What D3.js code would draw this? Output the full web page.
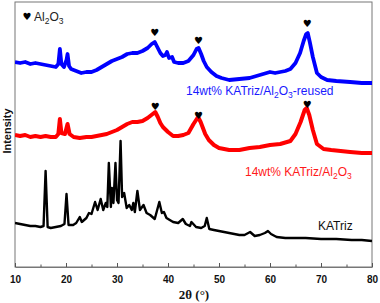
<!DOCTYPE html>
<html><head><meta charset="utf-8">
<script src="https://cdn.jsdelivr.net/npm/d3@7"></script>
<style>body{margin:0;background:#fff}svg{display:block}</style>
</head><body>
<svg id="c" width="380" height="303"></svg>
<script>
// 2θ (°), intensity (a.u.)
const reusedData = [[10,205],[11,204],[12,205],[13,203],[14,204],[15,203],[16,202],[17,201],[18,200],[18.5,203],[18.8,218],[19.1,203],[19.6,200],[20.1,207],[20.3,213],[20.6,201],[21,198],[22,196],[23,194],[24,195],[25,195],[26,197],[27,200],[28,203],[29,206],[30,208],[31,210],[32,213],[33,214],[34,214],[35,216],[36,219],[36.8,223],[37.4,225],[37.9,220],[38.5,214],[39,211],[39.5,212],[39.8,215],[40.2,209],[40.8,210],[41.2,205],[42,204],[43,204],[44,206],[45,212],[45.6,218],[46,219],[46.5,213],[47,206],[47.6,200],[48.5,195],[49.5,191],[50.5,189],[52,187],[54,188],[56,189],[58,192],[60,195],[61,194],[62,195],[63,196],[64,198],[65,204],[65.9,214],[66.6,226],[67.1,233],[67.4,234],[67.8,225],[68.4,210],[69.2,194],[70,190],[71.2,187],[73,186],[75.7,185],[78,184],[80,184]];
const freshData = [[10,132],[11,131],[12,132],[13,130],[14,131],[15,130],[16,131],[17,130],[18,130],[18.5,133],[18.8,148],[19.1,134],[19.8,133],[20.3,143],[20.7,133],[21.5,130],[22.7,129],[24,130],[25,130],[26,131],[27,132],[28,133],[29,135],[30,137],[31,140],[32,143],[33,145],[34,145],[35,146],[36,149],[37,153],[37.5,155],[38,150],[38.5,144],[39,140],[40,135],[41,131],[42,131],[43,132],[44,134],[45,143],[45.9,150],[46.4,145],[47.3,133],[48,127],[49,122],[50,119],[52,117],[54,117],[56,119],[58,120],[60,122],[62,123],[64,126],[65,133],[66,145],[66.8,157],[67.2,159],[67.7,152],[68.4,137],[69.2,123],[70.5,118],[72,117],[75.7,115],[78,114],[80,114]];
const katrizData = [[10,44],[11,43],[12,42],[13,41],[14,41],[15,40],[15.6,41],[16.0,96],[16.4,40],[17,39],[18,40],[19,41],[19.7,43],[20.1,73],[20.5,42],[21.4,42],[22,44],[22.7,50],[23.1,45],[24,49],[24.5,54],[25,53],[25.7,65],[26.2,57],[26.8,68],[27.3,57],[27.8,64],[28.1,60],[28.4,104],[28.8,60],[29.0,79],[29.3,64],[29.7,104],[30.0,67],[30.3,64],[30.7,126],[31.0,70],[31.4,74],[31.9,59],[32.4,62],[32.9,57],[33.2,64],[33.5,55],[34.0,76],[34.5,57],[35.2,62],[35.8,54],[36.5,52],[37.4,48],[38.3,65],[38.8,54],[39.2,55],[39.7,49],[41,45],[42,44],[42.9,48],[43.5,43],[44.3,41],[44.6,45],[45.5,40],[46.5,39],[47.2,41],[47.6,49],[48.1,38],[49,37],[50,36],[51,35],[52,34],[53,33],[54,32],[55,32],[56.1,35],[57,31],[58,32],[59,34],[59.6,36],[60.2,33],[61.3,30],[63,29],[65,29],[67,29],[70,28],[73,28],[76,27],[78,27],[80,26]];
const heartMarks = [[37.4,235],[46,227],[67.3,244],[37.5,161],[46,152],[67.3,163]];
const xTicks = [10,20,30,40,50,60,70,80];
const xMinorTicks = [15,25,35,45,55,65,75];
const seriesNames = ["14wt% KATriz/Al2O3-reused","14wt% KATriz/Al2O3","KATriz"];

const svg = d3.select("#c");
const L=15,R=372,T=2,B=267;
const x = d3.scaleLinear().domain([10,80]).range([L,R]);
const y = d3.scaleLinear().domain([0,265]).range([B,T]);

svg.append("rect").attr("x",L).attr("y",T).attr("width",R-L).attr("height",B-T)
  .attr("fill","none").attr("stroke","#777").attr("stroke-width",1);

const ax = svg.append("g").attr("transform",`translate(0,${B})`)
  .call(d3.axisBottom(x).tickValues(xTicks).tickSizeInner(-4).tickSizeOuter(0).tickPadding(9));
ax.select(".domain").attr("stroke","#777");
ax.selectAll(".tick line").attr("stroke","#555");
ax.selectAll(".tick text").attr("font-family","Liberation Sans, Arial, sans-serif")
  .attr("font-weight","bold").attr("font-size","10px").attr("fill","#111");
const axm = svg.append("g").attr("transform",`translate(0,${B})`)
  .call(d3.axisBottom(x).tickValues(xMinorTicks).tickSizeInner(-2.5).tickSizeOuter(0).tickFormat(""));
axm.select(".domain").remove();
axm.selectAll(".tick line").attr("stroke","#555");

const line = d3.line().x(d=>x(d[0])).y(d=>y(d[1]));
svg.append("clipPath").attr("id","pc").append("rect")
  .attr("x",L).attr("y",T).attr("width",R-L).attr("height",B-T);
const g = svg.append("g").attr("clip-path","url(#pc)");
g.append("path").datum(reusedData).attr("d",line).attr("fill","none").attr("stroke","#0000ff").attr("stroke-width",3.8).attr("stroke-linejoin","round");
g.append("path").datum(freshData).attr("d",line).attr("fill","none").attr("stroke","#ff0000").attr("stroke-width",4).attr("stroke-linejoin","round");
g.append("path").datum(katrizData).attr("d",line).attr("fill","none").attr("stroke","#000").attr("stroke-width",2.4).attr("stroke-linejoin","round");

svg.selectAll("text.h").data(heartMarks).join("text").attr("class","h")
  .attr("x",d=>x(d[0])).attr("y",d=>y(d[1])).attr("text-anchor","middle")
  .attr("dominant-baseline","central").attr("font-size","10px")
  .attr("font-family","DejaVu Sans, sans-serif").attr("fill","#000").text("\u2665");

const sans = "Liberation Sans, Arial, sans-serif";
function labelAl(px, py, col, prefix, suffix){
  const tx = svg.append("text").attr("x",px).attr("y",py).attr("font-family",sans)
    .attr("font-size","12px").attr("fill",col);
  tx.append("tspan").text(prefix+"Al");
  tx.append("tspan").attr("dy",3).attr("font-size","8.5px").text("2");
  tx.append("tspan").attr("dy",-3).text("O");
  tx.append("tspan").attr("dy",3).attr("font-size","8.5px").text("3");
  if(suffix) tx.append("tspan").attr("dy",-3).text(suffix);
}
svg.append("text").attr("x",27).attr("y",16).attr("text-anchor","middle").attr("dominant-baseline","central")
  .attr("font-size","10px").attr("font-family","DejaVu Sans, sans-serif").text("\u2665");
labelAl(34,21,"#222","","");
labelAl(186,95,"#1a1aff","14wt% KATriz/","-reused");
labelAl(245,176,"#ff1a1a","14wt% KATriz/","");
svg.append("text").attr("x",318).attr("y",230).attr("font-family",sans).attr("font-size","12px")
  .attr("fill","#111").text(seriesNames[2]);

svg.append("text").attr("transform","translate(11,131) rotate(-90)").attr("text-anchor","middle")
  .attr("font-family",sans).attr("font-weight","bold").attr("font-size","11px").attr("fill","#111").text("Intensity");
svg.append("text").attr("x",194).attr("y",299).attr("text-anchor","middle")
  .attr("font-family","Liberation Serif, Times New Roman, serif").attr("font-weight","bold")
  .attr("font-size","13px").attr("fill","#111").text("2\u03b8 (°)");
</script>
</body></html>
